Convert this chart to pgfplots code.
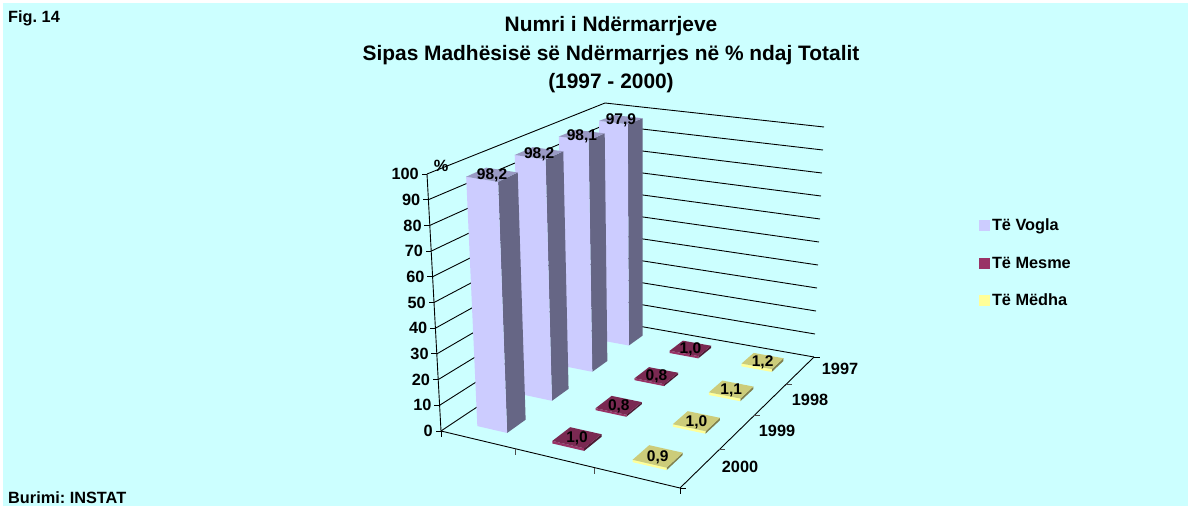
\documentclass[border=0pt]{standalone}
\usepackage{fontspec}
\setmainfont{Liberation Sans}
\usepackage{pgfplots}
\pgfplotsset{compat=1.18}
\frenchspacing
\definecolor{bg}{HTML}{CCFFFF}
\definecolor{sf}{HTML}{CCCCFF}\definecolor{st}{HTML}{9A9AC4}\definecolor{ss}{HTML}{666685}
\definecolor{mf}{HTML}{993366}\definecolor{mt}{HTML}{7A2952}\definecolor{ms}{HTML}{4D1A33}
\definecolor{lf}{HTML}{FFFF99}\definecolor{lt}{HTML}{CCCC7A}\definecolor{ls}{HTML}{80804D}
\newcommand\lab{\bfseries\fontsize{16.3}{18}\selectfont}
\newcommand\Pt[4]{%
  \pgfmathsetmacro\W{-0.09609*#2+0.21679*#3+1}%
  \pgfmathsetmacro\FX{(173.66*#2+297.59*#3+441)/\W}%
  \pgfmathsetmacro\FY{(10.11*#2-41.02*#3+431)/\W}%
  \pgfmathsetmacro\OX{(1-#2)*(1-#3)*(-14)+#2*(1-#3)*3+#2*#3*10+(1-#2)*#3*(-2)}%
  \pgfmathsetmacro\OY{(1-#2)*(1-#3)*(-257)+#2*(1-#3)*(-271)+#2*#3*(-230)+(1-#2)*#3*(-217.5)}%
  \pgfmathsetmacro\PX{\FX+#4*\OX}%
  \pgfmathsetmacro\PY{\FY+#4*\OY}%
  \expandafter\edef\csname #1\endcsname{(\PX,\PY)}%
}
\newcommand\Poly[2]{\edef\tmp{\noexpand\addplot[#1] coordinates {#2};}\tmp}
% \Bar{column centre u}{row 0..3, 0 = back 1997}{value}{front}{top}{side}
\newcommand\Bar[6]{%
  \pgfmathsetmacro\ua{#1-0.0675}\pgfmathsetmacro\ub{#1+0.0675}%
  \pgfmathsetmacro\vc{0.875-0.25*#2}%
  \pgfmathsetmacro\va{\vc-0.05}\pgfmathsetmacro\vb{\vc+0.05}%
  \pgfmathsetmacro\zz{#3/100.6}%
  \Pt{A}{\ua}{\va}{0}\Pt{B}{\ub}{\va}{0}\Pt{C}{\ub}{\vb}{0}%
  \Pt{E}{\ua}{\va}{\zz}\Pt{F}{\ub}{\va}{\zz}\Pt{G}{\ub}{\vb}{\zz}\Pt{H}{\ua}{\vb}{\zz}%
  \Poly{fill=#6,draw=none}{\B \C \G \F}%
  \Poly{fill=#4,draw=none}{\A \B \F \E}%
  \Poly{fill=#5,draw=none}{\E \F \G \H}%
}
\newcommand\BarLabel[3]{%
  \pgfmathsetmacro\vc{0.875-0.25*#2}%
  \pgfmathsetmacro\zz{#3/100.6}%
  \Pt{L}{#1}{\vc}{\zz}%
  \pgfmathsetmacro\ly{\PY+1}%
  \edef\tmp{\noexpand\node[font=\noexpand\bfseries\noexpand\fontsize{15.5}{17}\noexpand\selectfont,inner sep=0pt] at (axis cs:\PX,\ly) {\noexpand\pgfmathprintnumber[fixed,fixed zerofill,precision=1,use comma,assume math mode=true]{#3}};}\tmp
}
\begin{document}
\begin{tikzpicture}
\begin{axis}[
  at={(0,0)}, scale only axis, width=1188pt, height=506pt,
  xmin=0, xmax=1188, ymin=0, ymax=506, y dir=reverse,
  hide axis, clip=false,
  legend style={draw=none,fill=none,at={(axis cs:979,217)},anchor=north west,
    font=\lab,row sep=20.5pt,inner sep=0pt,outer sep=0pt,
    /tikz/every even column/.style={column sep=4pt}},
  legend cell align=left,
  legend image code/.code={\fill[#1] (0pt,-5.5pt) rectangle (11pt,5.5pt);},
]
\addlegendimage{fill=sf,draw=none}\addlegendentry{Të Vogla}
\addlegendimage{fill=mf,draw=none}\addlegendentry{Të Mesme}
\addlegendimage{fill=lf,draw=none}\addlegendentry{Të Mëdha}
\addplot[fill=white,draw=none] coordinates {(0,0)(1188,0)(1188,506)(0,506)};
\addplot[fill=bg,draw=none] coordinates {(3,3)(1188,3)(1188,506)(3,506)};
% walls: value gridlines
\pgfplotsinvokeforeach{0,10,20,30,40,50,60,70,80,90,100}{%
  \pgfmathsetmacro\zk{#1/100}%
  \Pt{A}{0}{0}{\zk}\Pt{B}{0}{1}{\zk}\Pt{C}{1}{1}{\zk}%
  \Poly{black,line width=0.9pt,mark=none}{\A \B \C}%
  \Pt{T}{0}{0}{\zk}%
  \pgfmathsetmacro\ta{\PX-5.5}\pgfmathsetmacro\tb{\PX-8}%
  \edef\tmp{\noexpand\addplot[black,line width=0.9pt,mark=none] coordinates {\T (\ta,\PY)};}\tmp
  \edef\tmp{\noexpand\node[anchor=east,inner sep=0pt,font=\noexpand\lab] at (axis cs:\tb,\PY) {#1};}\tmp
}
% vertical value axis and floor edges
\addplot[black,line width=0.9pt,mark=none] coordinates {(427,174)(441,431)};
\addplot[black,line width=0.9pt,mark=none] coordinates {(441,431)(680,488)(814,357)};
\addplot[black,line width=0.9pt,mark=none] coordinates {(441,431)(441,437)};
\addplot[black,line width=0.9pt,mark=none] coordinates {(680,488)(680,494)};
\addplot[black,line width=0.9pt,mark=none] coordinates {(680,488)(686,488)};
\addplot[black,line width=0.9pt,mark=none] coordinates {(814,357)(820,357)};
% ticks on the category and depth edges
\Pt{A}{0.3333}{0}{0}\pgfmathsetmacro\yy{\PY+6}\edef\tmp{\noexpand\addplot[black!70,line width=0.9pt,mark=none] coordinates {\A (\PX,\yy)};}\tmp
\Pt{A}{0.6667}{0}{0}\pgfmathsetmacro\yy{\PY+6}\edef\tmp{\noexpand\addplot[black!70,line width=0.9pt,mark=none] coordinates {\A (\PX,\yy)};}\tmp
\Pt{A}{1}{0.25}{0}\pgfmathsetmacro\xx{\PX+6}\edef\tmp{\noexpand\addplot[black!70,line width=0.9pt,mark=none] coordinates {\A (\xx,\PY)};}\tmp
\Pt{A}{1}{0.5}{0}\pgfmathsetmacro\xx{\PX+6}\edef\tmp{\noexpand\addplot[black!70,line width=0.9pt,mark=none] coordinates {\A (\xx,\PY)};}\tmp
\Pt{A}{1}{0.75}{0}\pgfmathsetmacro\xx{\PX+6}\edef\tmp{\noexpand\addplot[black!70,line width=0.9pt,mark=none] coordinates {\A (\xx,\PY)};}\tmp
% bars, back to front: Të Vogla, Të Mesme, Të Mëdha per year
\Bar{0.1667}{0}{97.9}{sf}{st}{ss}\Bar{0.5}{0}{1.0}{mf}{mt}{ms}\Bar{0.8333}{0}{1.2}{lf}{lt}{ls}
\Bar{0.1667}{1}{98.1}{sf}{st}{ss}\Bar{0.5}{1}{0.8}{mf}{mt}{ms}\Bar{0.8333}{1}{1.1}{lf}{lt}{ls}
\Bar{0.1667}{2}{98.2}{sf}{st}{ss}\Bar{0.5}{2}{0.8}{mf}{mt}{ms}\Bar{0.8333}{2}{1.0}{lf}{lt}{ls}
\Bar{0.1667}{3}{98.2}{sf}{st}{ss}\Bar{0.5}{3}{1.0}{mf}{mt}{ms}\Bar{0.8333}{3}{0.9}{lf}{lt}{ls}
\BarLabel{0.1667}{0}{97.9}\BarLabel{0.5}{0}{1.0}\BarLabel{0.8333}{0}{1.2}
\BarLabel{0.1667}{1}{98.1}\BarLabel{0.5}{1}{0.8}\BarLabel{0.8333}{1}{1.1}
\BarLabel{0.1667}{2}{98.2}\BarLabel{0.5}{2}{0.8}\BarLabel{0.8333}{2}{1.0}
\BarLabel{0.1667}{3}{98.2}\BarLabel{0.5}{3}{1.0}\BarLabel{0.8333}{3}{0.9}
% text
\node[font=\lab,inner sep=0pt] at (axis cs:840,369) {1997};
\node[font=\lab,inner sep=0pt] at (axis cs:810,400) {1998};
\node[font=\lab,inner sep=0pt] at (axis cs:777,431) {1999};
\node[font=\lab,inner sep=0pt] at (axis cs:740,467) {2000};
\node[font=\lab,inner sep=0pt] at (axis cs:441,166) {\%};
\node[font=\lab,inner sep=0pt,anchor=base west] at (axis cs:8,23) {Fig. 14};
\node[font=\lab,inner sep=0pt,anchor=base west] at (axis cs:8,503) {Burimi: INSTAT};
\node[font=\bfseries\fontsize{20.9}{28.5}\selectfont,inner sep=0pt,align=center] at (axis cs:611,55) {Numri i Ndërmarrjeve\\Sipas Madhësisë së Ndërmarrjes në \% ndaj Totalit\\(1997 - 2000)};
\end{axis}
\end{tikzpicture}
\end{document}
